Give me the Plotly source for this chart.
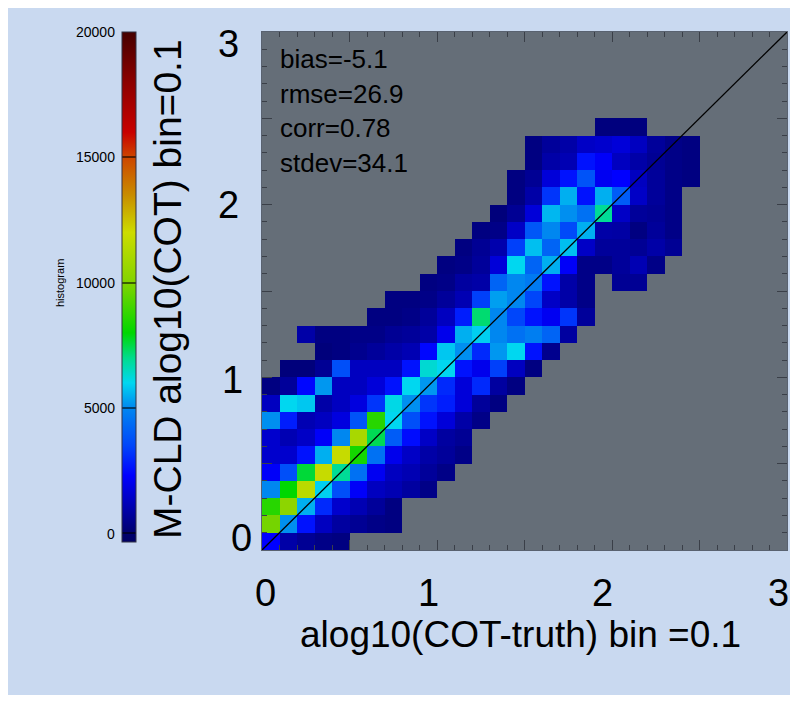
import plotly.graph_objects as go

# ---------------- data ----------------
bin_size = 0.1
n_bins = 30
# first occupied column of each row (row = M-CLD bin, col = truth bin)
row_start = [0, 0, 0, 0, 0, 0, 0, 0, 0, 0, 1, 3, 2, 6, 7, 9, 10, 11, 12, 13, 14, 14, 15, 15, 19]
row_values = [
    [2300, 900, 600, 400, 300],
    [9800, 5100, 2600, 1300, 800, 600, 400, 300],
    [8600, 10300, 5500, 3000, 1500, 1100, 700, 300],
    [5000, 8000, 11500, 5900, 3700, 2200, 1300, 1100, 800, 400],
    [2200, 3700, 7600, 11800, 6900, 4500, 2100, 1300, 1100, 700, 400],
    [1500, 1500, 2600, 5500, 11800, 8300, 4500, 2000, 1400, 900, 700, 400],
    [1500, 1100, 1400, 2200, 5000, 11000, 7400, 4000, 2500, 1400, 800, 600],
    [5100, 2800, 1100, 1300, 1800, 3800, 8600, 6000, 3700, 2600, 1700, 900, 400],
    [1300, 6000, 5800, 900, 1300, 1800, 3200, 6100, 5100, 3200, 2800, 1700, 700, 300],
    [300, 700, 2400, 5200, 1300, 1300, 1700, 2600, 6000, 5200, 3000, 1700, 3000, 800, 300],
    [200, 200, 600, 3700, 1300, 1300, 1300, 2600, 6300, 6000, 2600, 2000, 3400, 1300, 300],
    [200, 300, 500, 700, 900, 1100, 2400, 5800, 5100, 3000, 5200, 6000, 2600, 500],
    [900, 300, 300, 400, 400, 600, 700, 900, 2000, 5500, 5900, 5000, 4500, 4800, 4200, 800],
    [300, 300, 400, 700, 1300, 2800, 7200, 5000, 3500, 2600, 2100, 3200, 700],
    [300, 300, 400, 700, 1100, 3400, 5300, 5000, 3500, 1400, 900, 400],
    [300, 400, 800, 900, 4200, 5000, 4700, 2600, 900, 400, None, 600, 600],
    [300, 400, 700, 1700, 6000, 4200, 5500, 2200, 400, 400, 700, 1100, 400],
    [300, 600, 1000, 3400, 5700, 4200, 5700, 1400, 700, 700, 600, 900, 600],
    [300, 400, 1400, 3900, 5000, 3600, 5500, 900, 850, 300, 700, 400],
    [200, 600, 1700, 5600, 5100, 4500, 6900, 1400, 700, 600, 400],
    [300, 900, 3200, 5500, 2600, 5500, 4000, 1400, 700, 400],
    [300, 600, 1700, 2600, 3800, 2100, 2300, 1300, 700, 400, 300],
    [300, 900, 1100, 2600, 2200, 1300, 900, 600, 400, 300],
    [300, 700, 900, 1400, 1500, 1700, 1300, 700, 400, 300],
    [250, 250, 250],
]
stats_text = ["bias=-5.1", "rmse=26.9", "corr=0.78", "stdev=34.1"]
axis_ticks = [0, 1, 2, 3]
cbar_ticks = [0, 5000, 10000, 15000, 20000]
diag = [0.0, 3.0]
x_title = "alog10(COT-truth) bin =0.1"
y_title = "M-CLD alog10(COT) bin=0.1"
cbar_title = "histogram"

# ---------------- build grid ----------------
centers = [round((i + 0.5) * bin_size, 3) for i in range(n_bins)]
z = [[None] * n_bins for _ in range(n_bins)]
for j, (s, vals) in enumerate(zip(row_start, row_values)):
    for k, v in enumerate(vals):
        z[j][s + k] = v

ZMIN, ZMAX = -350, 20000
stops = [
    (-350, (0, 0, 100)), (0, (0, 0, 110)), (2300, (0, 0, 255)), (3500, (0, 70, 250)),
    (5000, (0, 135, 240)), (6000, (0, 215, 240)), (7000, (0, 220, 140)), (8000, (0, 215, 0)),
    (10000, (130, 212, 0)), (12000, (205, 220, 0)), (13500, (200, 140, 0)), (15000, (205, 70, 0)),
    (16000, (200, 0, 0)), (18000, (140, 0, 0)), (20000, (70, 0, 0)),
]
colorscale = [[(v - ZMIN) / (ZMAX - ZMIN), "rgb(%d,%d,%d)" % c] for v, c in stops]

# figure geometry (page body adds an 8 px margin)
OFF = 8
W, H = 790, 687
L, R, T, B = 254, 11, 24, 145
PW, PH = W - L - R, H - T - B
FONT = "Liberation Sans, Arial, Helvetica, sans-serif"


def px_x(p):
    """screen x pixel -> paper fraction"""
    return (p - OFF - L) / PW


def px_y(p):
    """screen y pixel -> paper fraction"""
    return (H - B - (p - OFF)) / PH


fig = go.Figure()
fig.add_trace(go.Heatmap(
    x=centers, y=centers, z=z, colorscale=colorscale, zmin=ZMIN, zmax=ZMAX,
    hoverongaps=False,
    colorbar=dict(
        thickness=14, thicknessmode="pixels", len=(542 - 32) / PH, lenmode="fraction",
        xref="paper", x=px_x(122), xanchor="left",
        yref="paper", y=px_y(32), yanchor="top",
        xpad=0, ypad=0, outlinewidth=1, outlinecolor="#333344",
        tickmode="array", tickvals=cbar_ticks, ticks="inside", ticklen=14,
        tickcolor="rgba(0,0,0,0.55)", tickwidth=2, showticklabels=False,
    ),
))
fig.add_trace(go.Scatter(x=diag, y=diag, mode="lines",
                         line=dict(color="black", width=1.3), hoverinfo="skip",
                         showlegend=False))

tick_color = "#3a3f48"
common_axis = dict(
    range=[0, 3], showgrid=False, zeroline=False, showticklabels=False,
    tickmode="array", tickvals=[0, 0.5, 1, 1.5, 2, 2.5, 3], ticks="inside",
    ticklen=10, tickwidth=1.2, tickcolor=tick_color,
    minor=dict(ticks="inside", dtick=0.1, tick0=0, ticklen=5, tickwidth=1, tickcolor=tick_color),
    showline=True, linecolor="#596270", linewidth=1, mirror="ticks",
)
fig.update_xaxes(**common_axis)
fig.update_yaxes(**common_axis)

ann = []
# stats text
for k, t in enumerate(stats_text):
    ann.append(dict(text=t, xref="paper", yref="paper", x=px_x(278), y=px_y(59 + 34.5 * k),
                    xanchor="left", yanchor="middle", showarrow=False,
                    font=dict(size=26, color="black", family=FONT)))
# x tick labels
x_shift = [3, -9, -10, -9]
for v, s in zip(axis_ticks, x_shift):
    ann.append(dict(text=str(v), xref="x", yref="paper", x=v, y=0, xshift=s, yshift=-43,
                    xanchor="center", yanchor="middle", showarrow=False,
                    font=dict(size=38, color="black", family=FONT)))
# y tick labels
y_lab_x = [241, 232, 228, 228]
y_shift = [12, -3, 0, -12]
for v, xp, s in zip(axis_ticks, y_lab_x, y_shift):
    ann.append(dict(text=str(v), xref="paper", yref="y", x=px_x(xp), y=v, yshift=s,
                    xanchor="center", yanchor="middle", showarrow=False,
                    font=dict(size=38, color="black", family=FONT)))
# axis titles
ann.append(dict(text=x_title, xref="paper", yref="paper", x=px_x(520), y=px_y(634),
                xanchor="center", yanchor="middle", showarrow=False,
                font=dict(size=37, color="black", family=FONT)))
ann.append(dict(text=y_title, xref="paper", yref="paper", x=px_x(167), y=px_y(289),
                xanchor="center", yanchor="middle", textangle=-90, showarrow=False,
                font=dict(size=39, color="black", family=FONT)))
# colorbar labels and title
cb_top, cb_zero = 32, 533.5
for v in cbar_ticks:
    yp = cb_zero - (cb_zero - cb_top) * v / 20000
    ann.append(dict(text=str(v), xref="paper", yref="paper", x=px_x(117), y=px_y(yp),
                    xanchor="right", yanchor="middle", showarrow=False,
                    font=dict(size=14, color="black", family=FONT)))
ann.append(dict(text=cbar_title, xref="paper", yref="paper", x=px_x(60), y=px_y(283),
                xanchor="center", yanchor="middle", textangle=-90, showarrow=False,
                font=dict(size=11, color="black", family=FONT)))

fig.update_layout(
    width=W, height=H, autosize=False,
    margin=dict(l=L, r=R, t=T, b=B),
    paper_bgcolor="#C9D9F0", plot_bgcolor="#656E78",
    annotations=ann, showlegend=False,
    font=dict(family=FONT, color="black"),
)
fig.write_html("out.html")
